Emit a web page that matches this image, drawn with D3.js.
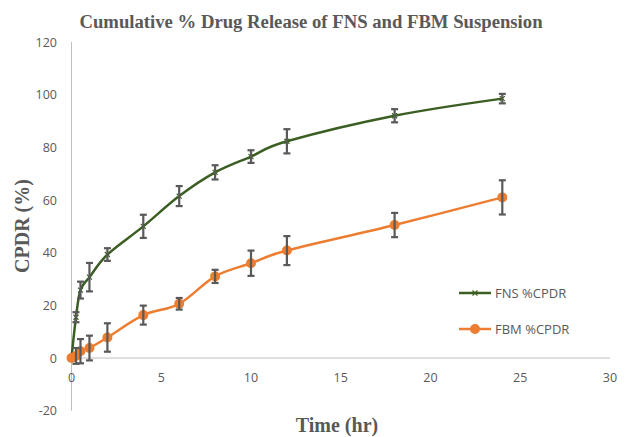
<!doctype html>
<html>
<head>
<meta charset="utf-8"/>
<title>Cumulative % Drug Release</title>
<script src="https://d3js.org/d3.v7.min.js"></script>
<style>
body { margin: 0; background: #fff; }
</style>
</head>
<body>
<script>
// time points (hr)
var time = [0, 0.25, 0.5, 1, 2, 4, 6, 8, 10, 12, 18, 24];
// FNS %CPDR and its error
var fns = [0, 15.5, 25.8, 30.7, 39.3, 50, 61.5, 70.5, 76.5, 82.3, 92, 98.5];
var fnsErr = [0, 1.9, 3.2, 5.4, 2.4, 4.4, 3.8, 2.7, 2.4, 4.6, 2.5, 1.8];
// FBM %CPDR and its error
var fbm = [0, 0.8, 2.6, 3.8, 7.8, 16.3, 20.6, 31, 36, 40.8, 50.5, 61];
var fbmErr = [0, 3, 4.6, 4.7, 5.4, 3.6, 2.2, 2.5, 4.8, 5.5, 4.6, 6.5];

var xTicks = [0, 5, 10, 15, 20, 25, 30];
var yTicks = [-20, 0, 20, 40, 60, 80, 100, 120];

var W = 625, H = 437;
var svg = d3.select("body").append("svg")
    .attr("width", W)
    .attr("height", H);

var x = d3.scaleLinear().domain([0, 30]).range([71.5, 610]);
var y = d3.scaleLinear().domain([-20, 120]).range([410.7, 42]);

var grey = "#595959";
var sans = "'Open Sans', 'Liberation Sans', sans-serif";
var serif = "'Liberation Serif', 'Times New Roman', serif";

// axis lines
svg.append("line")
    .attr("x1", x(0)).attr("x2", x(0))
    .attr("y1", y(120)).attr("y2", y(-20))
    .attr("stroke", "#bfbfbf").attr("stroke-width", 1);
svg.append("line")
    .attr("x1", x(0)).attr("x2", x(30))
    .attr("y1", y(0)).attr("y2", y(0))
    .attr("stroke", "#bfbfbf").attr("stroke-width", 1);

// tick labels
svg.selectAll(".yt").data(yTicks).enter().append("text")
    .attr("x", 57)
    .attr("y", function(d) { return y(d) + 4.5; })
    .attr("text-anchor", "end")
    .attr("font-family", sans).attr("font-size", 12.5)
    .attr("fill", grey)
    .text(function(d) { return d; });

svg.selectAll(".xt").data(xTicks).enter().append("text")
    .attr("x", function(d) { return x(d); })
    .attr("y", y(0) + 24)
    .attr("text-anchor", "middle")
    .attr("font-family", sans).attr("font-size", 12.5)
    .attr("fill", grey)
    .text(function(d) { return d; });

// titles
svg.append("text")
    .attr("x", 311).attr("y", 28)
    .attr("text-anchor", "middle")
    .attr("font-family", serif).attr("font-weight", "bold").attr("font-size", 18.7)
    .attr("fill", grey)
    .text("Cumulative % Drug Release of FNS and FBM Suspension");

svg.append("text")
    .attr("x", 337).attr("y", 432)
    .attr("text-anchor", "middle")
    .attr("font-family", serif).attr("font-weight", "bold").attr("font-size", 20)
    .attr("fill", grey)
    .text("Time (hr)");

svg.append("text")
    .attr("transform", "translate(29,226) rotate(-90)")
    .attr("text-anchor", "middle")
    .attr("font-family", serif).attr("font-weight", "bold").attr("font-size", 20)
    .attr("fill", grey)
    .text("CPDR (%)");

function drawSeries(vals, errs, color, marker) {
    var pts = time.map(function(t, i) { return {t: t, v: vals[i], e: errs[i]}; });
    var line = d3.line()
        .x(function(d) { return x(d.t); })
        .y(function(d) { return y(d.v); })
        .curve(d3.curveCardinal.tension(0));
    svg.append("path")
        .datum(pts)
        .attr("d", line)
        .attr("fill", "none")
        .attr("stroke", color)
        .attr("stroke-width", 2.5);

    if (marker == "circle") {
        svg.selectAll(null).data(pts).enter().append("circle")
            .attr("cx", function(d) { return x(d.t); })
            .attr("cy", function(d) { return y(d.v); })
            .attr("r", 5)
            .attr("fill", color);
    } else {
        svg.selectAll(null).data(pts).enter().append("path")
            .attr("d", function(d) {
                var cx = x(d.t), cy = y(d.v);
                return "M" + (cx - 2.5) + "," + (cy - 2.5) + "L" + (cx + 2.5) + "," + (cy + 2.5) +
                       "M" + (cx - 2.5) + "," + (cy + 2.5) + "L" + (cx + 2.5) + "," + (cy - 2.5);
            })
            .attr("stroke", color).attr("stroke-width", 1.2);
    }

    // error bars
    var eb = svg.selectAll(null).data(pts.filter(function(d) { return d.e > 0; })).enter().append("g")
        .attr("stroke", grey).attr("stroke-width", 2.2).attr("fill", "none");
    eb.append("line")
        .attr("x1", function(d) { return x(d.t); }).attr("x2", function(d) { return x(d.t); })
        .attr("y1", function(d) { return y(d.v + d.e); }).attr("y2", function(d) { return y(d.v - d.e); });
    eb.append("line")
        .attr("x1", function(d) { return x(d.t) - 3.5; }).attr("x2", function(d) { return x(d.t) + 3.5; })
        .attr("y1", function(d) { return y(d.v + d.e); }).attr("y2", function(d) { return y(d.v + d.e); });
    eb.append("line")
        .attr("x1", function(d) { return x(d.t) - 3.5; }).attr("x2", function(d) { return x(d.t) + 3.5; })
        .attr("y1", function(d) { return y(d.v - d.e); }).attr("y2", function(d) { return y(d.v - d.e); });
}

drawSeries(fns, fnsErr, "#3b5e23", "x");
drawSeries(fbm, fbmErr, "#ed7d31", "circle");

// legend
var legend = [
    {name: "FNS %CPDR", color: "#3b5e23", marker: "x", y: 293},
    {name: "FBM %CPDR", color: "#ed7d31", marker: "circle", y: 329}
];
legend.forEach(function(l) {
    svg.append("line")
        .attr("x1", 459).attr("x2", 491)
        .attr("y1", l.y).attr("y2", l.y)
        .attr("stroke", l.color).attr("stroke-width", 2.5);
    if (l.marker == "circle") {
        svg.append("circle").attr("cx", 475).attr("cy", l.y).attr("r", 5).attr("fill", l.color);
    } else {
        svg.append("path")
            .attr("d", "M472.5," + (l.y - 2.5) + "L477.5," + (l.y + 2.5) + "M472.5," + (l.y + 2.5) + "L477.5," + (l.y - 2.5))
            .attr("stroke", l.color).attr("stroke-width", 1.2);
    }
    svg.append("text")
        .attr("x", 495).attr("y", l.y + 4.5)
        .attr("font-family", sans).attr("font-size", 13)
        .attr("fill", grey)
        .text(l.name);
});
</script>
</body>
</html>
